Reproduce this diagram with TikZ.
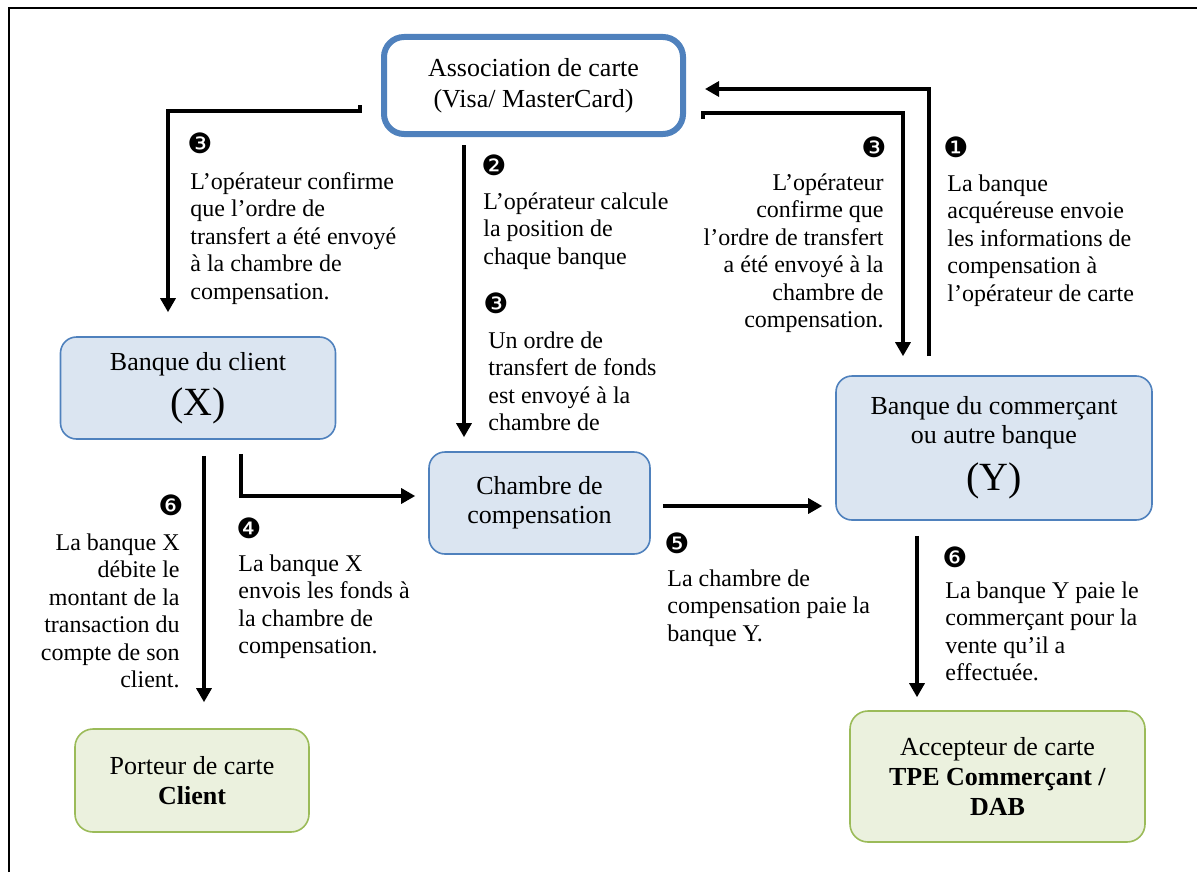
\documentclass[tikz,border=0pt]{standalone}
\usepackage{amsmath,amsthm}
\usepackage{fontspec}
\setmainfont{Liberation Serif}
\newfontfamily\numfont{DejaVu Sans}
\usetikzlibrary{arrows.meta}
\definecolor{boxblue}{HTML}{4F81BD}
\definecolor{fillblue}{HTML}{DBE5F1}
\definecolor{boxgreen}{HTML}{9BBB59}
\definecolor{fillgreen}{HTML}{EBF1DE}

\begin{document}
\begin{tikzpicture}[x=0.5pt, y=-0.5pt,
		flow/.style={line width=1.6pt, -{Triangle[length=7pt,width=7.5pt]}},
		assocbox/.style={rectangle, rounded corners=10pt, draw=boxblue, line width=3pt, fill=white, align=center, font=\fontsize{13}{15.5}\selectfont},
		bank/.style={rectangle, rounded corners=8pt, draw=boxblue, line width=0.8pt, fill=fillblue, align=center, font=\fontsize{13}{14.5}\selectfont},
		holder/.style={rectangle, rounded corners=9pt, draw=boxgreen, line width=0.8pt, fill=fillgreen, align=center, font=\fontsize{13}{15}\selectfont},
		note/.style={inner sep=0pt, font=\fontsize{12}{13.75}\selectfont},
		num/.style={inner sep=0pt, font=\fontsize{14}{16}\numfont}]
		\useasboundingbox (0,0) rectangle (1197,872);
		\draw[line width=1pt] (9,872) -- (9,8) -- (1197,8);

		\draw
		(533.5, 85.5) node [assocbox, minimum width=149.5pt, minimum height=48.5pt] (assoc) {Association de carte\\(Visa/ MasterCard)}
		(198, 388) node [bank, minimum width=137.5pt, minimum height=51pt] (bqx) {Banque du client\\[5pt]{\fontsize{20}{22}\selectfont (X)}}
		(539.5, 503) node [bank, minimum width=110.5pt, minimum height=51pt] (chambre) {Chambre de\\compensation}
		(994, 448) node [bank, minimum width=158pt, minimum height=72pt] (bqy) {Banque du commerçant\\ou autre banque\\[6pt]{\fontsize{20}{22}\selectfont (Y)}}
		(192, 780.5) node [holder, minimum width=117pt, minimum height=51.5pt] (porteur) {Porteur de carte\\\textbf{Client}}
		(997.5, 776.5) node [holder, minimum width=147.5pt, minimum height=65.5pt] (accept) {Accepteur de carte\\\textbf{TPE Commerçant /}\\\textbf{DAB}};

		\draw
		(200, 143) node [num] (n3l) {❸}
		(190, 172) node [note, anchor=north west, align=left] (t3l) {L’opérateur confirme\\que l’ordre de\\transfert a été envoyé\\à la chambre de\\compensation.}
		(494, 165) node [num] (n2) {❷}
		(483, 192) node [note, anchor=north west, align=left] (t2) {L’opérateur calcule\\la position de\\chaque banque}
		(496, 303) node [num] (n3m) {❸}
		(488, 331) node [note, anchor=north west, align=left] (t3m) {Un ordre de\\transfert de fonds\\est envoyé à la\\chambre de}
		(874, 147) node [num] (n3r) {❸}
		(884, 173) node [note, anchor=north east, align=right] (t3r) {L’opérateur\\confirme que\\l’ordre de transfert\\a été envoyé à la\\chambre de\\compensation.}
		(956, 147) node [num] (n1) {❶}
		(947, 174) node [note, anchor=north west, align=left] (t1) {La banque\\acquéreuse envoie\\les informations de\\compensation à\\l’opérateur de carte}
		(171, 505) node [num] (n6l) {❻}
		(180, 533) node [note, anchor=north east, align=right] (t6l) {La banque X\\débite le\\montant de la\\transaction du\\compte de son\\client.}
		(249, 528) node [num] (n4) {❹}
		(238, 554) node [note, anchor=north west, align=left] (t4) {La banque X\\envois les fonds à\\la chambre de\\compensation.}
		(677, 543) node [num] (n5) {❺}
		(667, 569) node [note, anchor=north west, align=left] (t5) {La chambre de\\compensation paie la\\banque Y.}
		(955, 557) node [num] (n6r) {❻}
		(945, 581) node [note, anchor=north west, align=left] (t6r) {La banque Y paie le\\commerçant pour la\\vente qu’il a\\effectuée.};

		\draw[flow] ([xshift=-32.5pt, yshift=9.5pt]bqy.north) |- ([xshift=9.5pt, yshift=-1.75pt]assoc.east);
		\draw[flow] ([shift={(8.5pt,-16.75pt)}]assoc.east) -- ++(0,3pt) -| ([xshift=-45.5pt, yshift=9.5pt]bqy.north);
		\draw[flow] ([shift={(-10.5pt,-9.75pt)}]assoc.west) -- ++(0,-3pt) -| ([xshift=-15pt, yshift=12pt]bqx.north);
		\draw[flow] ([shift={(-34.75pt,-4pt)}]assoc.south) -- ([shift={(-37.75pt,7pt)}]chambre.north);
		\draw[flow] ([shift={(21.5pt,-7pt)}]bqx.south) |- ([shift={(-6.5pt,3.5pt)}]chambre.west);
		\draw[flow] ([shift={(3pt,-8pt)}]bqx.south) -- ([shift={(6pt,13pt)}]porteur.north);
		\draw[flow] ([shift={(6pt,-1.5pt)}]chambre.east) -- ([shift={(-6.5pt,-29pt)}]bqy.west);
		\draw[flow] ([shift={(-38.5pt,-7.5pt)}]bqy.south) -- ([shift={(-40.25pt,6.5pt)}]accept.north);
	\end{tikzpicture}
\end{document}
